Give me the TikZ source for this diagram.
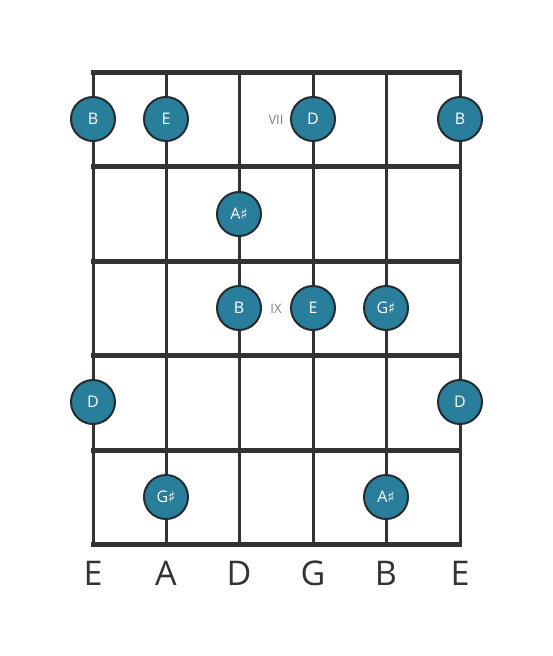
\documentclass[tikz,border=0pt]{standalone}
\usepackage{fontspec}
\setmainfont{Open Sans}
\newfontfamily\symfont{DejaVu Sans}
\definecolor{linecol}{HTML}{333333}
\definecolor{dotfill}{HTML}{287E9B}
\definecolor{dotedge}{HTML}{252C30}
\definecolor{posgray}{HTML}{808080}
\newcommand{\shp}{{\symfont\fontsize{15}{15}\selectfont ♯}}
\begin{document}
\begin{tikzpicture}[x=1pt,y=-1pt,
  stringline/.style={draw=linecol,line width=3pt},
  fretline/.style={draw=linecol,line width=5pt},
  notedot/.style={circle,fill=dotfill,draw=dotedge,line width=2pt,minimum size=44pt,inner sep=0pt,text=white,font=\fontsize{16}{16}\selectfont},
  poslabel/.style={text=posgray,font=\fontsize{13}{13}\selectfont},
  strlabel/.style={text=linecol,font=\fontsize{34}{34}\selectfont}]
\useasboundingbox (0,0) rectangle (553,656);
% strings
\foreach \x/\n in {93/1,166/2,239/3,313/4,386/5,460/6}{
  \coordinate (st\n) at (\x,72);
  \coordinate (sb\n) at (\x,544);
  \draw[stringline] (st\n) -- (sb\n);
}
% frets
\foreach \y/\n in {72/0,166/1,261/2,355/3,450/4,544/5}{
  \coordinate (fl\n) at (91,\y);
  \coordinate (fr\n) at (462,\y);
  \draw[fretline] (fl\n) -- (fr\n);
}
% position labels
\node[poslabel] (vii) at (276,120) {VII};
\node[poslabel] (ix) at (276,309) {IX};
% notes
\node[notedot] (n1) at (93,119) {B};
\node[notedot] (n2) at (166,119) {E};
\node[notedot] (n3) at (313,119) {D};
\node[notedot] (n4) at (460,119) {B};
\node[notedot] (n5) at (239,214) {A\shp};
\node[notedot] (n6) at (239,308) {B};
\node[notedot] (n7) at (313,308) {E};
\node[notedot] (n8) at (386,308) {G\shp};
\node[notedot] (n9) at (93,402) {D};
\node[notedot] (n10) at (460,402) {D};
\node[notedot] (n11) at (166,497) {G\shp};
\node[notedot] (n12) at (386,497) {A\shp};
% string names
\node[strlabel] (s1) at (93,573) {E};
\node[strlabel] (s2) at (166,573) {A};
\node[strlabel] (s3) at (239,573) {D};
\node[strlabel] (s4) at (313,573) {G};
\node[strlabel] (s5) at (386,573) {B};
\node[strlabel] (s6) at (460,573) {E};
\end{tikzpicture}
\end{document}
